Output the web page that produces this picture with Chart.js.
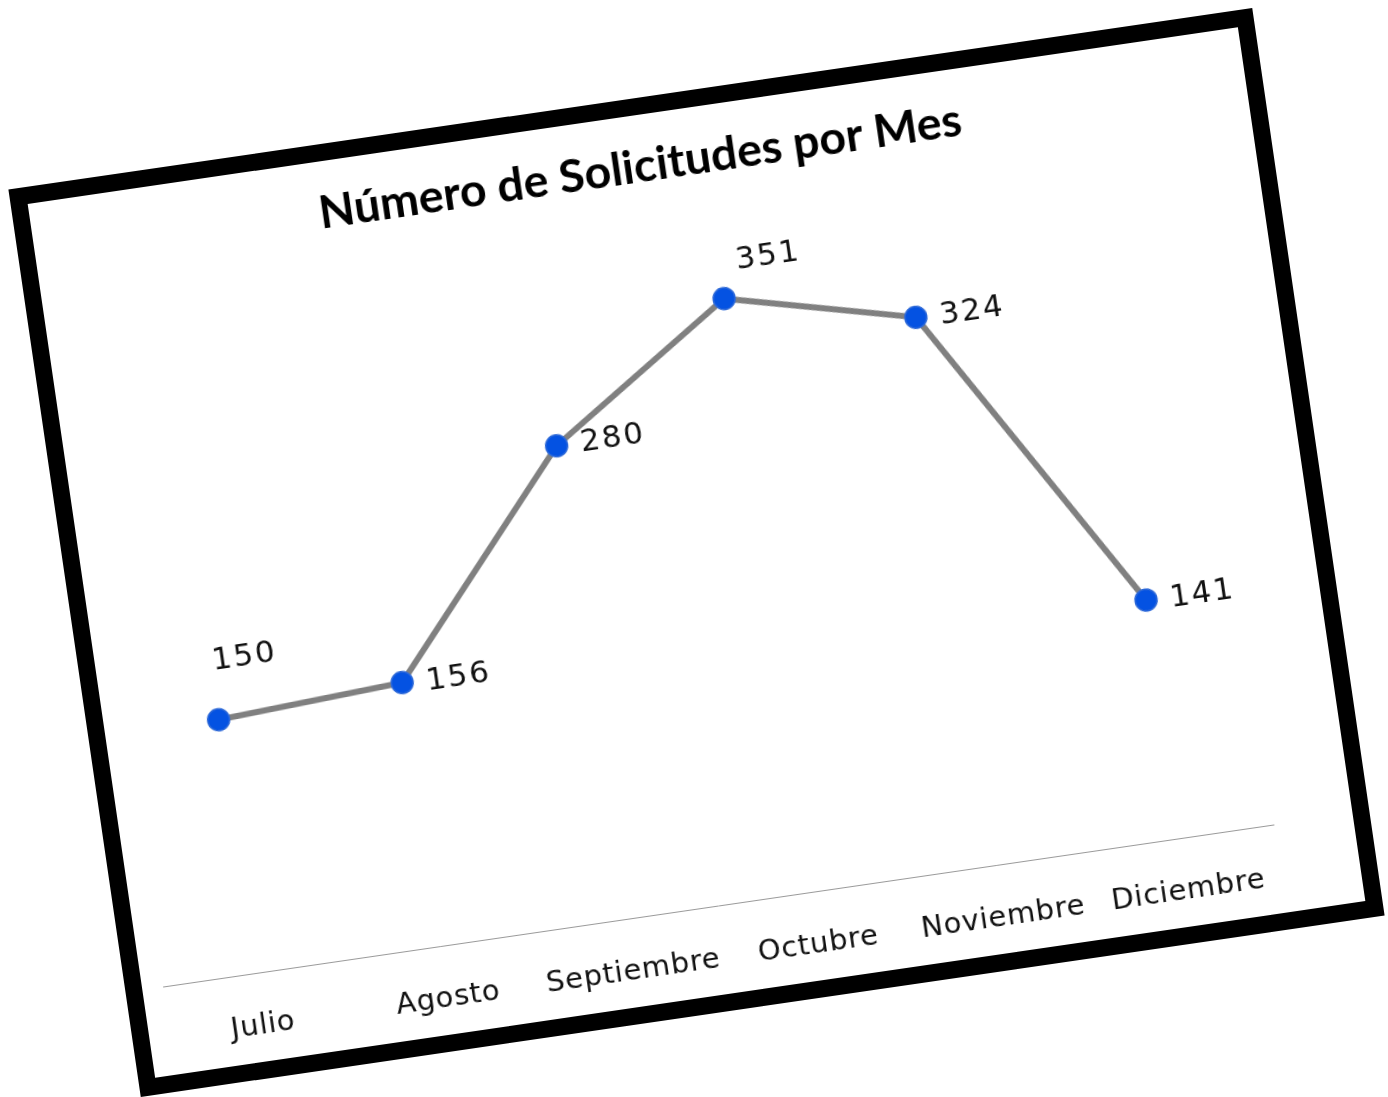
<!DOCTYPE html>
<html><head><meta charset="utf-8">
<script src="https://cdn.jsdelivr.net/npm/chart.js@4.4.1/dist/chart.umd.min.js"></script>
<style>
html,body{margin:0;padding:0;background:#fff;overflow:hidden;width:1388px;height:1097px;}
#stage{position:absolute;left:0;top:0;width:1388px;height:1097px;transform-origin:696.5px 552.5px;transform:rotate(-8.3deg);}
#frame{position:absolute;left:68px;top:94px;width:1257px;height:917px;border:17px solid #000;box-sizing:border-box;background:#fff;}
#c{display:block;}
</style></head><body>
<div id="stage"><div id="frame"><canvas id="c" width="1223" height="883"></canvas></div></div>
<script>
const months = ['Julio', 'Agosto', 'Septiembre', 'Octubre', 'Noviembre', 'Diciembre'];
const solicitudes = [150, 156, 280, 351, 324, 141];
const chartTitle = 'Número de Solicitudes por Mes';
const yMin = 0;
const yMax = 400;

const valueLabels = {
  id: 'valueLabels',
  afterDatasetsDraw(chart, args, opts) {
    const ctx = chart.ctx;
    const meta = chart.getDatasetMeta(0);
    ctx.save();
    ctx.font = opts.font;
    ctx.fillStyle = opts.color;
    if ('letterSpacing' in ctx) ctx.letterSpacing = opts.spacing;
    ctx.textAlign = 'left';
    ctx.textBaseline = 'middle';
    meta.data.forEach((pt, i) => {
      const off = opts.offsets[i] || [25, 0];
      ctx.fillText(String(chart.data.datasets[0].data[i]), pt.x + off[0], pt.y + off[1]);
    });
    ctx.restore();
  }
};

const tickSpacing = {
  id: 'tickSpacing',
  beforeDraw(chart, args, opts) {
    const s = chart.scales.x;
    if (s && !s.__spaced) {
      const orig = s.drawLabels;
      s.drawLabels = function (area) {
        const ctx = this.ctx;
        ctx.save();
        if ('letterSpacing' in ctx) ctx.letterSpacing = opts.spacing;
        orig.call(this, area);
        ctx.restore();
      };
      s.__spaced = true;
    }
  }
};

new Chart(document.getElementById('c'), {
  type: 'line',
  data: {
    labels: months,
    datasets: [{
      data: solicitudes,
      borderColor: '#808080',
      borderWidth: 6,
      pointBackgroundColor: '#0452e2',
      pointBorderColor: '#2f6ad8',
      pointBorderWidth: 1.5,
      pointRadius: 11,
      tension: 0,
      fill: false
    }]
  },
  options: {
    responsive: false,
    animation: false,
    devicePixelRatio: 1,
    layout: { padding: 0 },
    plugins: {
      legend: { display: false },
      tooltip: { enabled: false },
      title: {
        display: true,
        text: chartTitle,
        color: '#000',
        font: { family: 'Lato', size: 46.5, weight: 'bold', lineHeight: 1.2 },
        padding: { top: 24, bottom: 30.7 }
      },
      valueLabels: {
        font: '31px "DejaVu Sans"',
        color: '#111',
        spacing: '2px',
        offsets: [[2, -58], [24, 3], [24, 1], [17, -35], [24, 2], [24, 3]]
      },
      tickSpacing: { spacing: '0.8px' }
    },
    scales: {
      x: {
        offset: true,
        grid: { display: false, drawTicks: false },
        border: { display: true, color: '#9a9a9a', width: 1 },
        ticks: {
          color: '#111',
          font: { family: 'DejaVu Sans', size: 29 },
          padding: 36,
          maxRotation: 0,
          autoSkip: false
        },
        afterFit: s => { s.height = 88.5; }
      },
      y: {
        display: true,
        position: 'left',
        min: yMin,
        max: yMax,
        ticks: { display: false },
        grid: { display: false, drawTicks: false },
        border: { display: false },
        afterFit: s => { s.width = 21; }
      },
      yRight: {
        type: 'linear',
        display: true,
        position: 'right',
        min: yMin,
        max: yMax,
        ticks: { display: false },
        grid: { display: false, drawTicks: false },
        border: { display: false },
        afterFit: s => { s.width = 80; }
      }
    }
  },
  plugins: [valueLabels, tickSpacing]
});
</script>
</body></html>
